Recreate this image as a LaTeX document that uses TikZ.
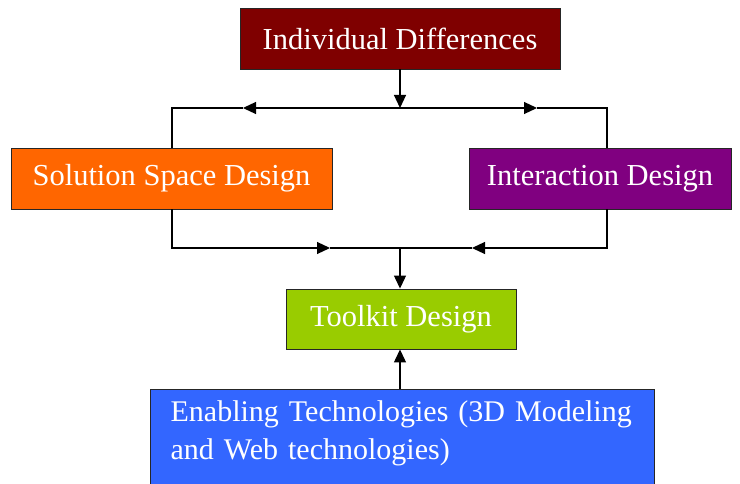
\documentclass[tikz,border=0pt]{standalone}
\usepackage{fontspec}
\setmainfont{Liberation Serif}
\usetikzlibrary{arrows.meta}

\definecolor{diffred}{HTML}{7F0000}
\definecolor{solorange}{HTML}{FF6600}
\definecolor{interpurple}{HTML}{800080}
\definecolor{toolgreen}{HTML}{99CC00}
\definecolor{enabblue}{HTML}{3366FF}

\begin{document}
\begin{tikzpicture}[x=1pt,y=-1pt,>={Triangle[length=13pt,width=12pt]},line width=1.2pt,
  box/.style={draw=black!85,line width=0.9pt,inner sep=0pt,text=white,font=\fontsize{30.5}{38}\selectfont}]

\useasboundingbox (0,0) rectangle (740,484);

\node[box,fill=diffred,minimum width=320pt,minimum height=61pt] (diff) at (400,38.5) {Individual Differences};
\node[box,fill=solorange,minimum width=321pt,minimum height=61pt] (sol) at (171.5,178.5) {Solution Space Design};
\node[box,fill=interpurple,minimum width=262pt,minimum height=61pt] (inter) at (600,178.5) {Interaction Design};
\node[box,fill=toolgreen,minimum width=230pt,minimum height=60pt] (tool) at (401,319) {Toolkit Design};
\node[box,fill=enabblue,minimum width=504pt,minimum height=101pt] (enab) at (402,439.5) {};
\node[text=white,font=\fontsize{30}{38}\selectfont,text width=470pt,align=left,inner sep=0pt,anchor=north west] (enabtext) at (170,400) {Enabling Technologies (3D Modeling\\and Web technologies)};

% junctions and corners
\coordinate (jtop) at (400,108);
\coordinate (jbot) at (400,248);
\coordinate (tl) at (172,108);
\coordinate (tr) at (607,108);
\coordinate (bl) at (172,248);
\coordinate (br) at (607,248);
\coordinate (atl) at (243,108);
\coordinate (atr) at (537,108);
\coordinate (abl) at (330,248);
\coordinate (abr) at (472,248);

\draw[->] (jtop |- diff.south) -- (jtop);
\draw[->] (jtop) -- (atl);
\draw (atl) -- (tl) -- (tl |- sol.north);
\draw[->] (jtop) -- (atr);
\draw (atr) -- (tr) -- (tr |- inter.north);

\draw[->] (bl |- sol.south) -- (bl) -- (abl);
\draw (abl) -- (abr);
\draw[->] (br |- inter.south) -- (br) -- (abr);
\draw[->] (jbot) -- (jbot |- tool.north);

\draw[->] (jbot |- enab.north) -- (jbot |- tool.south);

\end{tikzpicture}
\end{document}
